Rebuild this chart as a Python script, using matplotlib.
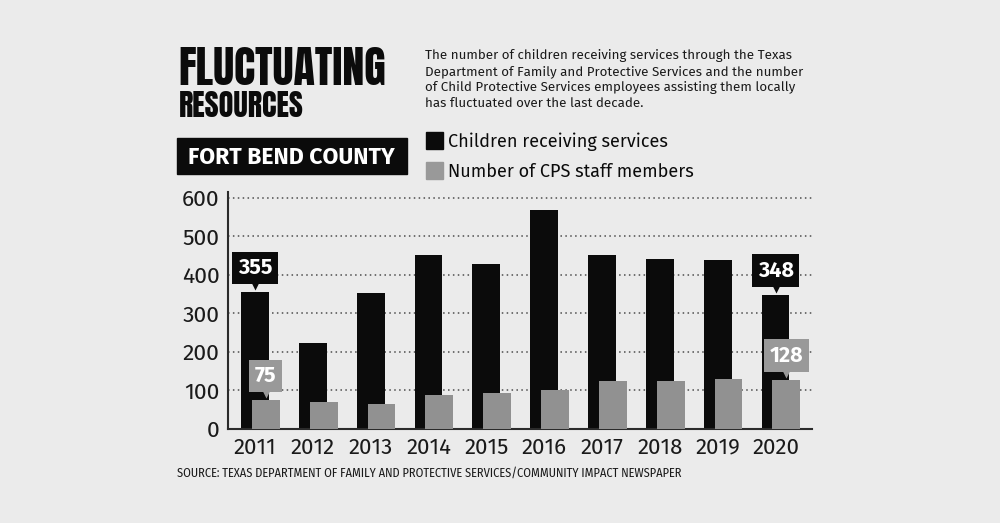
import matplotlib
matplotlib.use("Agg")
import matplotlib.pyplot as plt
import numpy as np
from matplotlib import font_manager as fm
from matplotlib.patches import Rectangle
from matplotlib.transforms import offset_copy

# data
years = ["2011", "2012", "2013", "2014", "2015", "2016", "2017", "2018", "2019", "2020"]
children = [355, 222, 352, 452, 427, 569, 452, 442, 439, 348]
staff = [75, 71, 65, 87, 93, 101, 124, 124, 129, 128]
yticks = [0, 100, 200, 300, 400, 500, 600]
labelled = [0, 9]   # years with value callouts

paragraph = [
    "The number of children receiving services through the Texas",
    "Department of Family and Protective Services and the number",
    "of Child Protective Services employees assisting them locally",
    "has fluctuated over the last decade.",
]
source = "SOURCE: TEXAS DEPARTMENT OF FAMILY AND PROTECTIVE SERVICES/COMMUNITY IMPACT NEWSPAPER"

BG = "#ebebeb"
BLACK = "#0b0b0b"
GRAY = "#919191"
GRAY_BOX = "#999999"
W, H = 1000, 523


def pick(cands):
    avail = {f.name for f in fm.fontManager.ttflist}
    for c in cands:
        if c in avail:
            return c
    return "DejaVu Sans"


TITLE_FONT = pick(["Anton", "League Gothic", "Oswald", "Bebas Neue", "Fjalla One", "Liberation Sans Narrow"])
BODY = pick(["Fira Sans", "Open Sans", "Noto Sans"])
COND = pick(["Fira Sans Condensed", "IBM Plex Sans Condensed", "Open Sans", "Liberation Sans Narrow"])


def fx(px):
    return px / W


def fy(py):
    return 1 - py / H


fig = plt.figure(figsize=(W / 100, H / 100), dpi=100, facecolor=BG)
renderer = fig.canvas.get_renderer()


def fit(t, width_px):
    w = t.get_window_extent(renderer).width
    t.set_fontsize(t.get_fontsize() * width_px / w)
    return t


# ---------------------------------------------------------------------------
# header
# ---------------------------------------------------------------------------
fit(fig.text(fx(178), fy(85), "FLUCTUATING", family=TITLE_FONT, fontsize=30,
             color=BLACK, va="baseline"), 207)
fit(fig.text(fx(179), fy(117), "RESOURCES", family=TITLE_FONT, fontsize=20,
             color=BLACK, va="baseline"), 124)

fig.patches.append(Rectangle((fx(177), fy(174)), fx(230), (174 - 138) / H,
                             transform=fig.transFigure, color=BLACK, zorder=1))
fit(fig.text(fx(188), fy(164), "FORT BEND COUNTY", family=BODY, fontweight="bold",
             fontsize=16, color="white", va="baseline", zorder=2), 207)

para = [fig.text(fx(425), fy(59 + 16 * i), line, family=BODY, fontsize=9.5,
                 color="#1a1a1a", va="baseline") for i, line in enumerate(paragraph)]
fit(para[1], 378)
for t in para:
    t.set_fontsize(para[1].get_fontsize())

# legend
for top, col in [(132, BLACK), (162, GRAY_BOX)]:
    fig.patches.append(Rectangle((fx(426), fy(top + 17)), fx(17), 17 / H,
                                 transform=fig.transFigure, color=col))
leg1 = fit(fig.text(fx(448), fy(147), "Children receiving services", family=BODY,
                    fontsize=15, color=BLACK, va="baseline"), 220)
fig.text(fx(448), fy(177), "Number of CPS staff members", family=BODY,
         fontsize=leg1.get_fontsize(), color=BLACK, va="baseline")

fit(fig.text(fx(177), fy(477), source, family=COND, fontsize=8, color="#1a1a1a",
             va="baseline"), 509)

# ---------------------------------------------------------------------------
# bars
# ---------------------------------------------------------------------------
ax = fig.add_axes([fx(228), fy(429), fx(812 - 228), (429 - 192) / H])
ax.set_facecolor(BG)

x = np.arange(len(years))
bw, shift = 0.48, 0.187
ax.bar(x, children, width=bw, color=BLACK, zorder=2)
ax.bar(x + shift, staff, width=bw, color=GRAY, zorder=3)

ax.set_xlim(-0.467, 9.63)
ax.set_ylim(0, 615)
ax.set_yticks(yticks)
ax.set_xticks(x, years)
ax.yaxis.grid(True, color="#4d4d4d", lw=1.1, ls=(0, (1, 2.2)), zorder=1)
ax.set_axisbelow(True)

for s in ["top", "right"]:
    ax.spines[s].set_visible(False)
for s in ["left", "bottom"]:
    ax.spines[s].set_color("#2b2b2b")
    ax.spines[s].set_linewidth(1.5)
ax.tick_params(length=0, colors="#1a1a1a")
ax.tick_params(axis="y", pad=6, labelsize=16.5)
ax.tick_params(axis="x", pad=5.5, labelsize=16)
for lab in ax.get_xticklabels() + ax.get_yticklabels():
    lab.set_family(BODY)


def callout(xc, val, col):
    box_tr = offset_copy(ax.transData, fig=fig, x=0, y=17.5, units="points")
    tri_tr = offset_copy(ax.transData, fig=fig, x=0, y=5.0, units="points")
    ax.text(xc, val, f"{val}", transform=box_tr, ha="center", va="center",
            color="white", fontsize=15.5, fontweight="bold", family=BODY,
            bbox=dict(boxstyle="square,pad=0.26", fc=col, ec="none"),
            zorder=6, clip_on=False)
    ax.plot([xc], [val], marker="v", ms=7, color=col, mec="none",
            transform=tri_tr, zorder=6, clip_on=False)


for i in labelled:
    callout(x[i], children[i], BLACK)
    callout(x[i] + shift, staff[i], GRAY_BOX)

fig.savefig("out.png", dpi=100, facecolor=BG)
